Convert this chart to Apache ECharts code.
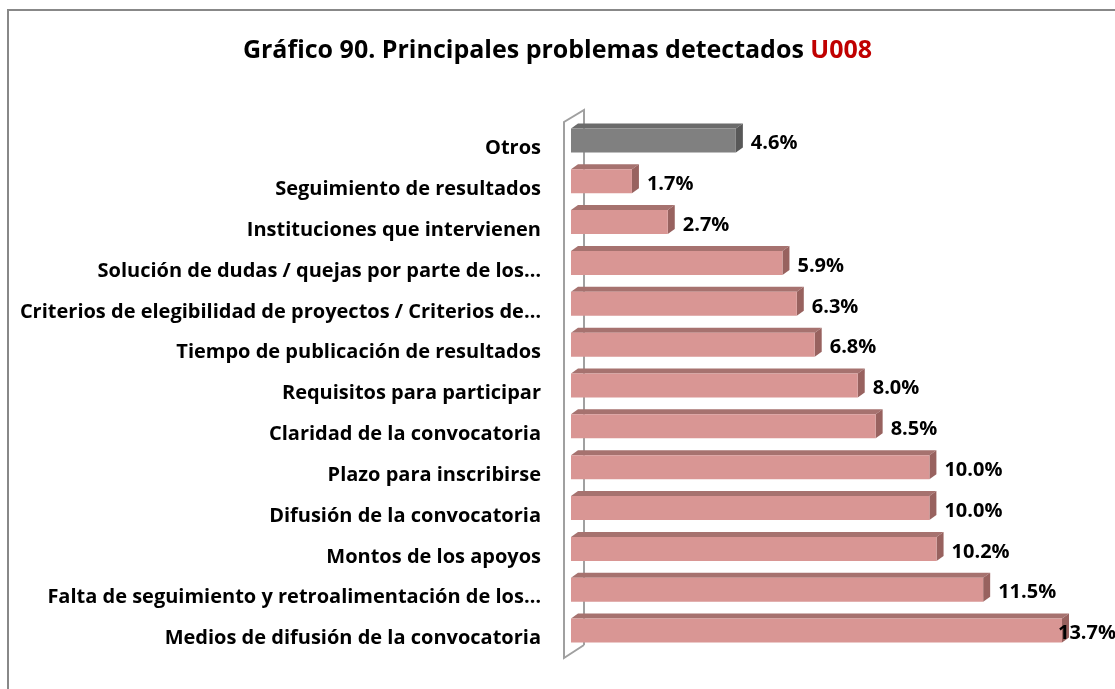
<!DOCTYPE html>
<html>
<head>
<meta charset="utf-8">
<script src="https://cdn.jsdelivr.net/npm/echarts@6/dist/echarts.min.js"></script>
<style>
  html, body { margin: 0; padding: 0; background: #fff; }
  #chart { width: 1115px; height: 689px; }
</style>
</head>
<body>
<div id="chart"></div>
<script>
// categorias de arriba hacia abajo
const categorias = [
  'Otros',
  'Seguimiento de resultados',
  'Instituciones que intervienen',
  'Solución de dudas / quejas por parte de los…',
  'Criterios de elegibilidad de proyectos / Criterios de…',
  'Tiempo de publicación de resultados',
  'Requisitos para participar',
  'Claridad de la convocatoria',
  'Plazo para inscribirse',
  'Difusión de la convocatoria',
  'Montos de los apoyos',
  'Falta de seguimiento y retroalimentación de los…',
  'Medios de difusión de la convocatoria'
]
const valores = [4.6, 1.7, 2.7, 5.9, 6.3, 6.8, 8.0, 8.5, 10.0, 10.0, 10.2, 11.5, 13.7]

const FUENTE = '"Open Sans", "Noto Sans", sans-serif'
const DX = 7   // profundidad 3D
const DY = 5

const colores = {
  normal: { frente: '#d99694', techo: '#a6726f', lado: '#98625f' },
  otros: { frente: '#808080', techo: '#6b6b6b', lado: '#585858' }
}

let chart = echarts.init(document.getElementById('chart'))

function renderBarra (params, api) {
  let idx = api.value(1)
  let val = api.value(0)
  let p0 = api.coord([0, idx])
  let p1 = api.coord([val, idx])
  let alto = 24
  let x0 = p0[0], x1 = p1[0]
  let y0 = p0[1] - alto / 2, y1 = p0[1] + alto / 2
  let c = idx === 0 ? colores.otros : colores.normal
  let texto = val.toFixed(1) + '%'
  let lx = x1 + DX + 8
  if (lx + 57 > 1115) lx = 1115 - 57
  return {
    type: 'group',
    children: [
      {
        type: 'polygon',
        shape: { points: [[x0, y0], [x0 + DX, y0 - DY], [x1 + DX, y0 - DY], [x1, y0]] },
        style: { fill: c.techo }
      },
      {
        type: 'polygon',
        shape: { points: [[x1, y0], [x1 + DX, y0 - DY], [x1 + DX, y1 - DY], [x1, y1]] },
        style: { fill: c.lado }
      },
      {
        type: 'rect',
        shape: { x: x0, y: y0, width: x1 - x0, height: alto },
        style: { fill: c.frente }
      },
      {
        type: 'text',
        style: {
          text: texto,
          x: lx,
          y: p0[1] + 3,
          fill: '#000',
          fontSize: 20,
          fontWeight: 'bold',
          fontFamily: FUENTE,
          verticalAlign: 'middle',
          align: 'left'
        },
        z2: 10
      }
    ]
  }
}

let datos = valores.map((v, i) => [v, i])

let option = {
  animation: false,
  backgroundColor: '#fff',
  title: {
    text: '{n|Gráfico 90. Principales problemas detectados }{r|U008}',
    left: 'center',
    top: 33,
    textStyle: {
      rich: {
        n: { fontSize: 25, fontWeight: 'bold', color: '#000', fontFamily: FUENTE },
        r: { fontSize: 25, fontWeight: 'bold', color: '#c00000', fontFamily: FUENTE }
      }
    }
  },
  grid: {
    left: 571,
    top: 120,
    width: 537.6,
    height: 531
  },
  xAxis: {
    type: 'value',
    min: 0,
    max: 15,
    show: false
  },
  yAxis: {
    type: 'category',
    data: categorias,
    inverse: true,
    axisLine: { show: false },
    axisTick: { show: false },
    splitLine: { show: false },
    axisLabel: {
      margin: 30,
      formatter: v => '{c|' + v + '}',
      rich: {
        c: {
          color: '#000',
          fontSize: 20,
          fontWeight: 'bold',
          fontFamily: FUENTE,
          padding: [16, 0, 0, 0]
        }
      }
    }
  },
  graphic: [
    {
      type: 'rect',
      z: 0,
      shape: { x: 8, y: 10, width: 1200, height: 800 },
      style: { fill: 'none', stroke: '#888', lineWidth: 2 }
    },
    {
      type: 'polyline',
      z: 0,
      shape: { points: [[584, 645], [584, 110], [564, 122], [564, 658], [584, 645]] },
      style: { fill: 'none', stroke: '#a0a0a0', lineWidth: 2 }
    }
  ],
  series: [
    {
      type: 'custom',
      z: 5,
      renderItem: renderBarra,
      encode: { x: 0, y: 1 },
      data: datos
    }
  ]
}

chart.setOption(option)
</script>
</body>
</html>
